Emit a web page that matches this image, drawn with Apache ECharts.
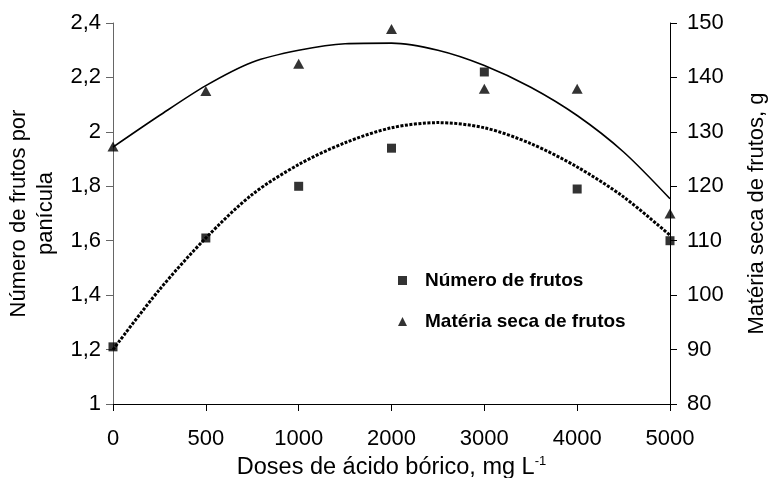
<!DOCTYPE html>
<html>
<head>
<meta charset="utf-8">
<script src="https://cdn.jsdelivr.net/npm/echarts@6/dist/echarts.min.js"></script>
<style>
  html, body { margin: 0; padding: 0; background: #fff; }
  #chart { width: 771px; height: 478px; }
</style>
</head>
<body>
<div id="chart"></div>
<script>
// doses de acido borico (eixo de categorias, posições 0..6)
var doses = ['0', '500', '1000', '2000', '3000', '4000', '5000'];

// pontos observados, um por dose
var numeroFrutos = [1.21, 1.61, 1.80, 1.94, 2.22, 1.79, 1.60];
var materiaSeca = [127.3, 137.5, 142.5, 148.9, 137.9, 137.9, 115.0];

// linhas de tendência, a cada meia posição (0, 0.5, 1 ... 6)
var trendPos = [0, 0.5, 1, 1.5, 2, 2.5, 3, 3.5, 4, 4.5, 5, 5.5, 6];
var trendNumero = [1.20, 1.42, 1.61, 1.77, 1.88, 1.96, 2.015, 2.034, 2.015, 1.957, 1.871, 1.761, 1.62];
var trendMateria = [127.2, 133.0, 138.5, 142.8, 145.0, 146.2, 146.3, 145.0, 142.2, 138.2, 133.0, 126.3, 117.7];

var FONT = 'Liberation Sans, Arial, sans-serif';

function pairs(xs, ys) {
    return ys.map(function (v, i) { return [xs[i], v]; });
}

var option = {
    animation: false,
    backgroundColor: '#fff',
    textStyle: { fontFamily: FONT },
    grid: { left: 113, right: 101, top: 23, bottom: 74, outerBoundsMode: 'none', containLabel: false },
    legend: {
        orient: 'vertical',
        left: 393,
        top: 266,
        itemWidth: 9,
        itemHeight: 9,
        itemGap: 22,
        textStyle: { fontFamily: FONT, fontSize: 19, fontWeight: 'bold', color: '#000', padding: [0, 0, 0, 13] },
        data: [
            { name: 'Número de frutos', icon: 'rect' },
            { name: 'Matéria seca de frutos', icon: 'triangle' }
        ]
    },
    xAxis: {
        type: 'value',
        min: 0,
        max: 6,
        interval: 1,
        splitLine: { show: false },
        axisLine: { lineStyle: { color: '#000', width: 1 } },
        axisTick: { length: 7, lineStyle: { color: '#000' } },
        axisLabel: {
            fontSize: 22, color: '#000', margin: 24, fontFamily: FONT,
            formatter: function (v) { return doses[v]; }
        },
        name: '{a|Doses de ácido bórico, mg L}{s|-1}',
        nameLocation: 'middle',
        nameGap: 50,
        nameTextStyle: {
            rich: {
                a: { fontSize: 23.5, color: '#000', fontFamily: FONT },
                s: { fontSize: 13, color: '#000', fontFamily: FONT, verticalAlign: 'top', padding: [0, 0, 12, 0] }
            }
        }
    },
    yAxis: [
        {
            type: 'value',
            min: 1,
            max: 2.4,
            interval: 0.2,
            splitLine: { show: false },
            axisLine: { show: true, lineStyle: { color: '#666', width: 1 } },
            axisTick: { show: true, length: 7, lineStyle: { color: '#666' } },
            axisLabel: {
                fontSize: 22, color: '#000', margin: 12, fontFamily: FONT,
                formatter: function (v) { return String(Math.round(v * 10) / 10).replace('.', ','); }
            },
            name: 'Número de frutos por\npanícula',
            nameLocation: 'middle',
            nameRotate: 90,
            nameGap: 53,
            nameTextStyle: { fontSize: 22, color: '#000', lineHeight: 27, fontFamily: FONT }
        },
        {
            type: 'value',
            min: 80,
            max: 150,
            interval: 10,
            splitLine: { show: false },
            axisLine: { show: true, lineStyle: { color: '#000', width: 1 } },
            axisTick: { show: true, length: 7, lineStyle: { color: '#000' } },
            axisLabel: { fontSize: 22, color: '#000', margin: 17, fontFamily: FONT },
            name: 'Matéria seca de frutos, g',
            nameLocation: 'middle',
            nameRotate: 90,
            nameGap: 76,
            nameTextStyle: { fontSize: 22, color: '#000', fontFamily: FONT }
        }
    ],
    series: [
        {
            name: 'trend numero',
            type: 'line',
            yAxisIndex: 0,
            data: pairs(trendPos, trendNumero),
            smooth: 0.3,
            showSymbol: false,
            lineStyle: { color: '#000', width: 3, type: [3, 1.5] },
            z: 2
        },
        {
            name: 'trend materia',
            type: 'line',
            yAxisIndex: 1,
            data: pairs(trendPos, trendMateria),
            smooth: 0.3,
            showSymbol: false,
            lineStyle: { color: '#000', width: 1.6, type: 'solid' },
            z: 2
        },
        {
            name: 'Número de frutos',
            type: 'scatter',
            yAxisIndex: 0,
            data: numeroFrutos.map(function (v, i) { return [i, v]; }),
            symbol: 'rect',
            symbolSize: 9,
            itemStyle: { color: '#000' },
            clip: false,
            z: 3
        },
        {
            name: 'Matéria seca de frutos',
            type: 'scatter',
            yAxisIndex: 1,
            data: materiaSeca.map(function (v, i) { return [i, v]; }),
            symbol: 'triangle',
            symbolSize: [11, 10],
            itemStyle: { color: '#000' },
            clip: false,
            z: 3
        }
    ]
};

var chart = echarts.init(document.getElementById('chart'));
chart.setOption(option);
</script>
</body>
</html>
